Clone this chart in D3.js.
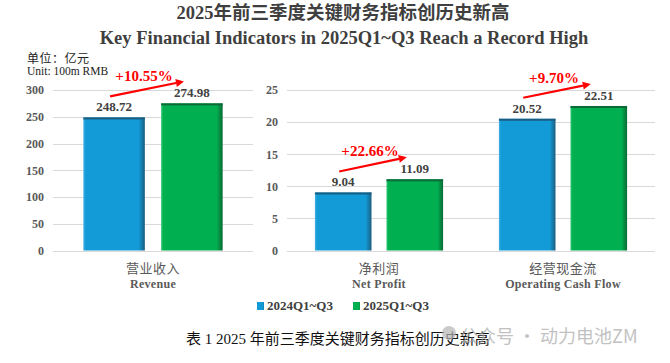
<!DOCTYPE html>
<html>
<head>
<meta charset="utf-8">
<script src="https://cdn.jsdelivr.net/npm/d3@7"></script>
<style>
  body { margin: 0; background: #fff; }
  svg { display: block; }
</style>
</head>
<body>
<div id="chart"></div>
<script>
// Data
const series = ["2024Q1~Q3", "2025Q1~Q3"];
const leftCats = ["营业收入"];
const leftCatsEn = ["Revenue"];
const rightCats = ["净利润", "经营现金流"];
const rightCatsEn = ["Net Profit", "Operating Cash Flow"];
const revenue = [248.72, 274.98];
const netProfit = [9.04, 11.09];
const cashFlow = [20.52, 22.51];
const growth = ["+10.55%", "+22.66%", "+9.70%"];
const leftTicks = [0, 50, 100, 150, 200, 250, 300];
const rightTicks = [0, 5, 10, 15, 20, 25];

const width = 670, height = 363;
const serif = '"Liberation Serif", "Times New Roman", "Noto Sans CJK SC", serif';
const grey = "#595959";

const svg = d3.select("#chart").append("svg")
  .attr("width", width).attr("height", height);

// Bar gradients (bevelled look)
const defs = svg.append("defs");
const palettes = [
  {id: "g0", main: "#129bd6", dark: "#1b5d80", light: "#3fb0e2"},
  {id: "g1", main: "#00b050", dark: "#0b6a35", light: "#28c46c"}
];
palettes.forEach(p => {
  const g = defs.append("linearGradient").attr("id", p.id)
    .attr("x1", 0).attr("x2", 1).attr("y1", 0).attr("y2", 0);
  g.append("stop").attr("offset", "0%").attr("stop-color", p.light);
  g.append("stop").attr("offset", "4%").attr("stop-color", p.main);
  g.append("stop").attr("offset", "90%").attr("stop-color", p.main);
  g.append("stop").attr("offset", "100%").attr("stop-color", p.dark);
});

// Titles
svg.append("text").attr("x", 343).attr("y", 19)
  .attr("text-anchor", "middle").attr("fill", "#3f3f3f")
  .style("font-family", serif).style("font-weight", "bold").style("font-size", "18.5px")
  .text("2025年前三季度关键财务指标创历史新高");
svg.append("text").attr("x", 344).attr("y", 44)
  .attr("text-anchor", "middle").attr("fill", "#3f3f3f")
  .style("font-family", serif).style("font-weight", "bold").style("font-size", "18.5px")
  .text("Key Financial Indicators in 2025Q1~Q3 Reach a Record High");

// Unit
svg.append("text").attr("x", 27).attr("y", 63).attr("fill", "#222")
  .style("font-family", serif).style("font-size", "12px").style("letter-spacing", "0.5px")
  .text("单位：亿元");
svg.append("text").attr("x", 27).attr("y", 75).attr("fill", "#222")
  .style("font-family", serif).style("font-size", "11.5px").text("Unit: 100m RMB");

function panel(cats, catsEn, values, ticks, yDomain, xRange, axisX, growthLabels) {
  const y = d3.scaleLinear().domain(yDomain).range([250.5, 90]);
  const x0 = d3.scaleBand().domain(cats).range(xRange);
  const x1 = d3.scaleBand().domain(series).range([0, x0.bandwidth()])
    .paddingInner(0.21).paddingOuter(0.39);

  const g = svg.append("g");

  // Gridlines
  g.selectAll("line.grid").data(ticks).join("line")
    .attr("x1", xRange[0]).attr("x2", xRange[1])
    .attr("y1", d => Math.round(y(d)) + 0.5).attr("y2", d => Math.round(y(d)) + 0.5)
    .attr("stroke", "#d9d9d9").attr("stroke-width", 1);

  // Tick labels
  if (axisX != null) {
    const axis = d3.axisLeft(y).tickValues(ticks).tickSize(0).tickPadding(0);
    const ax = g.append("g").attr("transform", `translate(${axisX},0)`).call(axis);
    ax.select(".domain").remove();
    ax.selectAll("text").attr("fill", grey)
      .style("font-family", serif).style("font-weight", "bold").style("font-size", "12px");
  }

  cats.forEach((c, i) => {
    const vals = values[i];
    const cg = g.append("g").attr("transform", `translate(${x0(c)},0)`);
    series.forEach((s, j) => {
      const bx = x1(s), bw = x1.bandwidth(), by = y(vals[j]);
      cg.append("rect").attr("x", bx).attr("y", by)
        .attr("width", bw).attr("height", y(0) - by)
        .attr("fill", `url(#g${j})`);
      cg.append("rect").attr("x", bx).attr("y", by)
        .attr("width", bw).attr("height", 2)
        .attr("fill", palettes[j].dark);
      cg.append("text").attr("x", bx + bw / 2).attr("y", by - 6)
        .attr("text-anchor", "middle").attr("fill", "#404040")
        .style("font-family", serif).style("font-weight", "bold").style("font-size", "13px")
        .text(vals[j].toFixed(2));
    });

    // Growth arrow
    const sx = x0(c) + x1(series[0]) + x1.bandwidth() / 2 - 4;
    const sy = y(vals[0]) - 21;
    const ex = x0(c) + x1(series[1]) + x1.bandwidth() / 2 - 8;
    const ey = y(vals[1]) - 22;
    const ang = Math.atan2(ey - sy, ex - sx);
    const hl = 8, hw = 4;
    const bxp = ex - hl * Math.cos(ang), byp = ey - hl * Math.sin(ang);
    cg.append("line").attr("x1", sx - x0(c)).attr("y1", sy)
      .attr("x2", bxp - x0(c)).attr("y2", byp)
      .attr("stroke", "#ff0000").attr("stroke-width", 2.2);
    cg.append("path")
      .attr("d", `M${ex - x0(c)},${ey}L${bxp - x0(c) - hw * Math.sin(ang)},${byp + hw * Math.cos(ang)}L${bxp - x0(c) + hw * Math.sin(ang)},${byp - hw * Math.cos(ang)}Z`)
      .attr("fill", "#ff0000");
    cg.append("text").attr("x", (sx + ex) / 2 - x0(c) - 3).attr("y", (sy + ey) / 2 - 8)
      .attr("text-anchor", "middle").attr("fill", "#ff0000")
      .style("font-family", serif).style("font-weight", "bold").style("font-size", "15px")
      .text(growthLabels[i]);

    // Category labels
    const cx = x0.bandwidth() / 2;
    cg.append("text").attr("x", cx).attr("y", 273).attr("text-anchor", "middle")
      .attr("fill", grey).style("font-family", serif).style("font-size", "13px")
      .style("letter-spacing", "0.5px")
      .text(c);
    cg.append("text").attr("x", cx).attr("y", 288).attr("text-anchor", "middle")
      .attr("fill", grey).style("font-family", serif).style("font-weight", "bold").style("font-size", "12px")
      .style("letter-spacing", "0.3px")
      .text(catsEn[i]);
  });
}

panel(leftCats, leftCatsEn, [revenue], leftTicks, [0, 300], [53, 253], 44, [growth[0]]);
panel(rightCats, rightCatsEn, [netProfit, cashFlow], rightTicks, [0, 25], [287, 655], 278, growth.slice(1));

// Legend
const legend = svg.append("g");
const legendX = [257, 353];
series.forEach((s, j) => {
  legend.append("rect").attr("x", legendX[j]).attr("y", 302).attr("width", 7).attr("height", 8)
    .attr("fill", `url(#g${j})`);
  legend.append("text").attr("x", legendX[j] + 10).attr("y", 310).attr("fill", "#404040")
    .style("font-family", serif).style("font-weight", "bold").style("font-size", "13px")
    .text(s);
});

// Caption
svg.append("text").attr("x", 186).attr("y", 344).attr("fill", "#111")
  .style("font-family", serif).style("font-size", "15px")
  .text("表 1  2025 年前三季度关键财务指标创历史新高");

// Watermark (overlaps the caption in the source image too)
const wm = svg.append("g").attr("opacity", 0.7);
wm.append("circle").attr("cx", 449).attr("cy", 333).attr("r", 7).attr("fill", "#b5b5b5");
wm.append("text").attr("x", 460).attr("y", 343).attr("fill", "#a8a8a8")
  .style("font-family", '"Noto Sans CJK SC", sans-serif').style("font-size", "18px")
  .text("公众号 · 动力电池ZM");
</script>
</body>
</html>
